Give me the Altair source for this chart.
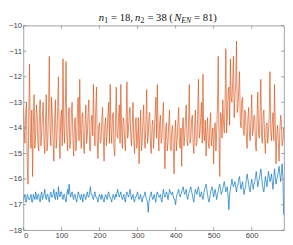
import altair as alt
import pandas as pd

# ---- data ----
x_a = list(range(0, 685, 4))   # 0, 4, ..., 684
x_b = list(range(2, 685, 4))   # 2, 6, ..., 682

orange_a = [
    -13.2, -14.6, -13.0, -16.2, -11.5, -14.8, -15.9, -12.7, -14.3, -13.5, -14.9, -12.9, -14.2, -13.0, -15.0, -12.7, -14.5, -11.2, -14.7, -13.6, -15.3, -12.9, -14.4, -12.0, -15.2,
    -13.3, -11.3, -14.6, -11.4, -14.9, -13.2, -14.5, -13.0, -15.1, -13.6, -14.4, -12.8, -12.1, -14.8, -13.4, -15.0, -13.1, -14.3, -12.9, -14.9, -13.5, -12.3, -14.7, -12.4, -15.2,
    -13.8, -14.5, -13.2, -15.3, -13.6, -14.2, -13.0, -12.3, -14.6, -13.4, -15.1, -12.4, -14.4, -13.1, -12.3, -14.8, -13.7, -14.9, -12.2, -14.1, -13.2, -14.7, -13.0, -15.0, -13.6,
    -14.4, -15.4, -13.3, -14.6, -13.1, -14.8, -12.5, -14.3, -13.4, -15.0, -13.7, -14.2, -12.8, -12.3, -14.9, -13.5, -14.4, -13.0, -15.6, -13.8, -14.6, -13.3, -14.9, -13.9, -15.8,
    -13.7, -14.5, -13.2, -14.8, -15.5, -13.6, -14.3, -13.1, -14.7, -12.3, -14.4, -13.5, -15.0, -13.3, -14.6, -12.1, -14.2, -13.0, -11.9, -14.5, -15.1, -13.6, -14.8, -13.4, -14.3,
    -15.4, -13.8, -14.1, -11.2, -15.9, -13.5, -12.9, -14.2, -10.9, -13.6, -12.4, -11.3, -13.0, -11.2, -12.7, -10.6, -13.2, -11.8, -14.0, -12.8, -14.3, -13.5, -14.8, -13.2, -14.5,
    -12.7, -14.1, -13.6, -14.9, -12.6, -14.4, -12.1, -14.6, -13.3, -15.0, -13.8, -14.2, -11.8, -14.5, -13.4, -12.3, -15.4, -13.9, -15.3, -13.5, -14.7, -14.0,
]
orange_b = [
    -14.1, -13.4, -15.4, -13.6, -14.2, -13.3, -13.9, -14.8, -13.1, -14.6, -13.4, -14.7, -13.5, -14.5, -13.8, -14.9, -13.3, -14.1, -12.8, -14.6, -13.7, -14.8, -13.2, -14.3, -13.6,
    -14.7, -13.9, -13.2, -14.2, -13.6, -14.8, -13.4, -14.4, -13.9, -14.9, -13.2, -14.5, -14.1, -13.5, -14.7, -13.8, -14.6, -13.4, -14.8, -13.7, -14.3, -14.1, -13.3, -14.5, -13.9,
    -14.6, -13.7, -14.4, -13.9, -14.7, -13.5, -14.6, -14.0, -13.5, -14.8, -13.8, -14.3, -13.6, -14.6, -14.0, -13.6, -14.5, -13.8, -14.4, -13.5, -14.3, -13.9, -14.5, -13.9, -14.8,
    -13.6, -14.3, -14.9, -13.8, -14.5, -13.7, -14.6, -13.6, -14.7, -13.9, -14.8, -13.5, -14.4, -14.2, -13.8, -14.6, -13.6, -14.5, -14.0, -14.9, -13.8, -14.7, -14.1, -14.8, -14.2,
    -14.9, -13.8, -14.6, -14.0, -13.9, -14.7, -13.6, -14.5, -13.8, -14.6, -13.7, -14.6, -13.9, -14.7, -13.5, -14.4, -13.6, -14.6, -14.3, -13.7, -14.2, -14.6, -13.9, -14.7, -14.0,
    -14.0, -14.9, -13.2, -14.3, -13.4, -14.4, -13.8, -13.0, -14.2, -12.6, -13.9, -12.8, -12.2, -13.6, -12.3, -13.4, -12.5, -13.7, -12.9, -14.1, -13.3, -14.4, -13.6, -14.2, -13.7,
    -14.3, -13.5, -14.7, -13.6, -14.2, -13.4, -14.3, -13.5, -14.4, -13.9, -14.6, -13.5, -14.1, -13.8, -14.5, -13.9, -14.3, -14.6, -14.1, -13.8, -14.5,
]

blue_a = [
    -16.8, -16.6, -16.9, -16.7, -16.8, -16.6, -16.9, -16.7, -16.5, -16.8, -16.6, -16.9, -16.5, -16.7, -16.4, -16.8, -16.6, -16.9, -16.5, -16.7, -16.4, -16.8, -16.6, -16.3, -16.7,
    -16.5, -16.8, -16.6, -16.9, -16.4, -16.2, -16.7, -16.5, -16.8, -16.6, -16.9, -16.5, -16.7, -16.6, -16.9, -16.6, -16.8, -16.5, -16.7, -16.3, -16.6, -16.8, -16.5, -16.7, -16.9,
    -16.6, -16.8, -16.7, -16.9, -16.6, -16.8, -16.5, -16.7, -16.9, -16.6, -16.8, -16.7, -16.4, -16.7, -16.5, -16.8, -16.6, -16.9, -16.5, -16.7, -16.4, -16.8, -16.6, -16.9, -16.7,
    -16.5, -16.8, -16.6, -16.9, -16.7, -16.5, -16.8, -17.3, -16.7, -16.5, -16.8, -16.6, -16.9, -16.5, -16.7, -16.6, -16.9, -16.4, -16.7, -16.5, -16.8, -16.4, -16.6, -16.5, -16.8,
    -17.0, -16.6, -16.4, -16.7, -16.5, -16.3, -16.6, -16.4, -16.8, -16.5, -16.3, -16.6, -16.9, -16.4, -16.6, -16.3, -16.7, -16.5, -16.8, -16.4, -16.2, -16.6, -16.9, -16.5, -16.3,
    -16.7, -16.4, -16.8, -16.5, -16.2, -16.6, -16.4, -16.1, -16.5, -16.3, -17.2, -16.4, -16.0, -16.3, -16.1, -16.5, -16.2, -15.9, -16.4, -16.1, -16.6, -16.3, -15.8, -16.2, -16.5,
    -16.0, -16.4, -16.1, -15.7, -16.3, -16.0, -15.6, -16.2, -16.5, -15.9, -16.3, -15.7, -16.1, -15.8, -16.4, -15.6, -16.2, -15.9, -15.5, -16.1, -15.4, -17.4,
]
blue_b = [
    -16.7, -16.9, -16.6, -16.8, -16.7, -16.9, -16.6, -16.8, -16.7, -16.6, -16.8, -16.6, -16.8, -16.6, -16.7, -16.6, -16.8, -16.6, -16.7, -16.6, -16.7, -16.5, -16.8, -16.6, -16.5,
    -16.7, -16.6, -16.8, -16.6, -16.6, -16.5, -16.6, -16.7, -16.6, -16.8, -16.7, -16.6, -16.8, -16.7, -16.6, -16.7, -16.6, -16.7, -16.5, -16.6, -16.7, -16.6, -16.7, -16.8, -16.7,
    -16.7, -16.6, -16.8, -16.7, -16.7, -16.6, -16.7, -16.8, -16.7, -16.7, -16.6, -16.5, -16.6, -16.6, -16.7, -16.7, -16.8, -16.6, -16.6, -16.6, -16.6, -16.7, -16.8, -16.7, -16.6,
    -16.7, -16.7, -16.8, -16.7, -16.6, -16.7, -16.9, -16.9, -16.6, -16.7, -16.7, -16.8, -16.6, -16.6, -16.7, -16.8, -16.6, -16.6, -16.6, -16.6, -16.6, -16.5, -16.6, -16.7, -16.8,
    -16.7, -16.5, -16.6, -16.6, -16.4, -16.5, -16.5, -16.7, -16.6, -16.4, -16.5, -16.8, -16.6, -16.5, -16.4, -16.5, -16.6, -16.7, -16.6, -16.3, -16.4, -16.8, -16.7, -16.4, -16.5,
    -16.5, -16.6, -16.6, -16.3, -16.4, -16.5, -16.2, -16.3, -16.4, -16.7, -16.6, -16.2, -16.2, -16.2, -16.3, -16.3, -16.0, -16.2, -16.2, -16.4, -16.4, -16.0, -16.0, -16.4, -16.2,
    -16.2, -16.2, -15.9, -16.0, -16.1, -15.8, -15.9, -16.4, -16.2, -16.1, -16.0, -15.9, -16.0, -16.1, -16.0, -15.9, -16.0, -15.7, -15.8, -15.8, -15.9,
]

x_ticks = [0, 100, 200, 300, 400, 500, 600]
y_ticks = [-18, -17, -16, -15, -14, -13, -12, -11, -10]

# title pieces (math-style title)
title_text = ["n", "1", "= 18,", "n", "2", "= 38 (", "N", "EN", "= 81)"]
title_italic = [True, False, False, True, False, False, True, True, False]
title_sub = [False, True, False, False, True, False, False, True, False]
title_dx = [0, 5.7, 12.8, 37.7, 43.4, 50.5, 78.2, 85.5, 98.8]

W, H = 270, 212
X0 = 78

# ---- build ----
series = pd.DataFrame({
    "x": x_a + x_b + x_a + x_b,
    "y": blue_a + blue_b + orange_a + orange_b,
    "s": ["b"] * (len(blue_a) + len(blue_b)) + ["o"] * (len(orange_a) + len(orange_b)),
})

xs = alt.Scale(domain=[0, 685], nice=False, zero=False)
ys = alt.Scale(domain=[-18, -10], nice=False, zero=False)
xax = alt.Axis(values=x_ticks, title=None, grid=False, domain=False, ticks=False,
               labelFontSize=8, labelColor="#444", labelFont="Liberation Sans", labelPadding=2)
yax = alt.Axis(values=y_ticks, title=None, grid=False, domain=False, ticks=False,
               labelFontSize=8, labelColor="#444", labelFont="Liberation Sans", labelPadding=2)

lines = alt.Chart(series).mark_line(strokeWidth=0.7, clip=True).encode(
    x=alt.X("x:Q", scale=xs, axis=xax),
    y=alt.Y("y:Q", scale=ys, axis=yax),
    color=alt.Color("s:N", scale=alt.Scale(domain=["b", "o"], range=["#0072BD", "#D95319"]), legend=None),
    detail="s:N",
    order=alt.Order("x:Q"),
)

xt = pd.DataFrame({"xv": x_ticks})
yt = pd.DataFrame({"yv": y_ticks})
tick_color = "#888"
xb = alt.Chart(xt).mark_rule(color=tick_color, strokeWidth=0.8).encode(
    x=alt.X("xv:Q", scale=xs, axis=xax), y=alt.value(H), y2=alt.value(H - 3))
xtp = alt.Chart(xt).mark_rule(color=tick_color, strokeWidth=0.8).encode(
    x=alt.X("xv:Q", scale=xs, axis=xax), y=alt.value(0), y2=alt.value(3))
yl = alt.Chart(yt).mark_rule(color=tick_color, strokeWidth=0.8).encode(
    y=alt.Y("yv:Q", scale=ys, axis=yax), x=alt.value(0), x2=alt.value(3))
yr = alt.Chart(yt).mark_rule(color=tick_color, strokeWidth=0.8).encode(
    y=alt.Y("yv:Q", scale=ys, axis=yax), x=alt.value(W), x2=alt.value(W - 3))

td = pd.DataFrame({
    "t": title_text,
    "px": [X0 + d for d in title_dx],
    "py": [-2.5 if s else -5 for s in title_sub],
    "fs": [8 if s else 11 for s in title_sub],
    "it": title_italic,
})
t_it = alt.Chart(td).transform_filter("datum.it").mark_text(
    font="Liberation Serif", fontStyle="italic", align="left", baseline="alphabetic", color="#111").encode(
    x=alt.X("px:Q", scale=None), y=alt.Y("py:Q", scale=None), text="t:N", size=alt.Size("fs:Q", scale=None))
t_up = alt.Chart(td).transform_filter("!datum.it").mark_text(
    font="Liberation Serif", align="left", baseline="alphabetic", color="#111").encode(
    x=alt.X("px:Q", scale=None), y=alt.Y("py:Q", scale=None), text="t:N", size=alt.Size("fs:Q", scale=None))

chart = alt.layer(lines, xb, xtp, yl, yr, t_it, t_up).properties(
    width=W, height=H, padding=0
).resolve_scale(size="independent").configure_view(stroke="#888", strokeWidth=0.8)

chart.save("out.html", embed_options={"renderer": "svg", "actions": False})
